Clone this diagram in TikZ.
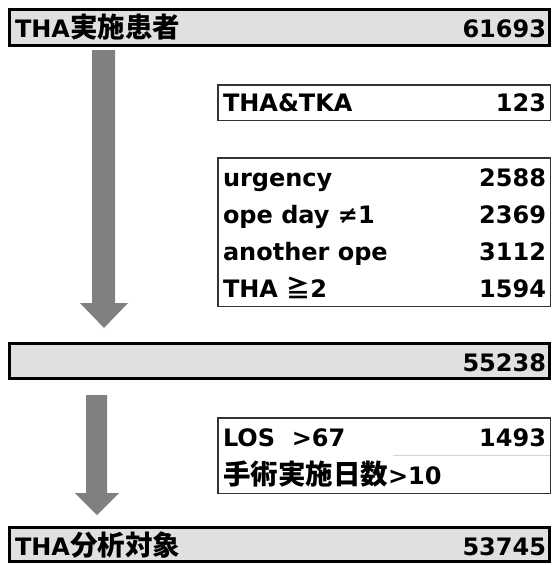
\documentclass[tikz,border=0pt]{standalone}
\usepackage{fontspec}
\setmainfont{DejaVu Sans}
\newfontfamily\cjk{Noto Sans CJK JP}
\newcommand\jp[1]{{\cjk\bfseries\fontsize{27.5pt}{30pt}\selectfont #1}}
\newcommand\jpsym[1]{{\cjk\bfseries\fontsize{24pt}{28pt}\selectfont #1}}
\definecolor{boxfill}{HTML}{E0E0E0}
\definecolor{arrowgray}{HTML}{808080}
\definecolor{thinedge}{HTML}{333333}
\definecolor{faint}{HTML}{D4D4D4}
\tikzset{
  bigbox/.style={draw=black, fill=boxfill, line width=3pt, rectangle, outer sep=0pt, inner sep=0pt, anchor=north west},
  smallbox/.style={draw=thinedge, fill=white, line width=1.5pt, rectangle, outer sep=0pt, inner sep=0pt, anchor=north west},
  lbl/.style={inner sep=0pt, outer sep=0pt, anchor=base west, font=\bfseries\fontsize{24pt}{28pt}\selectfont},
  num/.style={inner sep=0pt, outer sep=0pt, anchor=base east, font=\bfseries\fontsize{24pt}{28pt}\selectfont},
  blockarrow/.style={fill=arrowgray, draw=none}
}
\begin{document}
\begin{tikzpicture}[x=1pt,y=-1pt]
\useasboundingbox (0,0) rectangle (552,565);
% boxes
\node[bigbox, minimum width=540pt, minimum height=36pt] (top) at (9.5,9.5) {};
\node[smallbox, minimum width=332.5pt, minimum height=35.5pt] (tk) at (217.75,84.75) {};
\node[smallbox, minimum width=332.5pt, minimum height=148.5pt] (ex1) at (217.75,157.75) {};
\node[bigbox, minimum width=540pt, minimum height=35pt] (mid) at (9.5,343.5) {};
\node[smallbox, minimum width=332.5pt, minimum height=75.5pt] (ex2) at (217.75,417.75) {};
\node[bigbox, minimum width=540pt, minimum height=34pt] (fin) at (9.5,527.5) {};
% faint separator inside second exclusion box
\coordinate (sepL) at (393,455);
\coordinate (sepR) at (549.5,455);
\draw[faint, line width=1pt] (sepL) -- (sepR);
% block arrows
\fill[blockarrow] (92,50) -- (115,50) -- (115,303) -- (128,303) -- (104,328) -- (80,303) -- (92,303) -- cycle;
\fill[blockarrow] (86,395) -- (107,395) -- (107,493) -- (119,493) -- (97,515) -- (75,493) -- (86,493) -- cycle;
% texts
\node[lbl] (t1) at (15,37) {THA\jp{実施患者}};
\node[num] (n1) at (546,37) {61693};
\node[lbl] (t2) at (223,111) {THA\&TKA};
\node[num] (n2) at (546,111) {123};
\node[lbl] (t3) at (223,186) {urgency};
\node[num] (n3) at (546,186) {2588};
\node[lbl] (t4) at (223,223) {ope day ≠1};
\node[num] (n4) at (546,223) {2369};
\node[lbl] (t5) at (223,260) {another ope};
\node[num] (n5) at (546,260) {3112};
\node[lbl] (t6) at (223,297) {THA \jpsym{≧}2};
\node[num] (n6) at (546,297) {1594};
\node[num] (n7) at (546,371) {55238};
\node[lbl] (t8) at (223,446) {LOS~~>67};
\node[num] (n8) at (546,446) {1493};
\node[lbl] (t9) at (223,484) {\jp{手術実施日数}>10};
\node[lbl] (t10) at (15,555) {THA\jp{分析対象}};
\node[num] (n10) at (546,555) {53745};
\end{tikzpicture}
\end{document}
